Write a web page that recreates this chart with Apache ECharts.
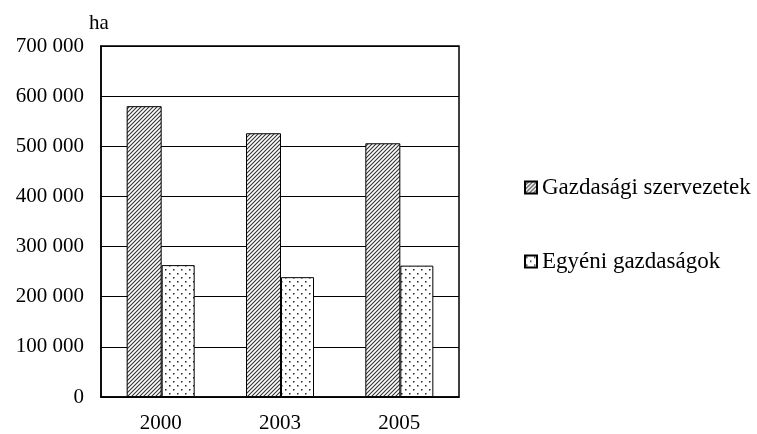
<!DOCTYPE html>
<html>
<head>
<meta charset="utf-8">
<script src="https://cdn.jsdelivr.net/npm/echarts@6/dist/echarts.min.js"></script>
<style>
html, body { margin: 0; padding: 0; background: #fff; }
#chart { width: 757px; height: 434px; }
</style>
</head>
<body>
<div id="chart"></div>
<script>
var years = ["2000", "2003", "2005"];
var gazdasagi = [580000, 526000, 506000];
var egyeni = [263000, 239000, 262000];

// hatch pattern: diagonal lines
function hatchPattern() {
	var c = document.createElement("canvas");
	c.width = 4; c.height = 4;
	var g = c.getContext("2d");
	g.fillStyle = "#fff"; g.fillRect(0, 0, 4, 4);
	g.strokeStyle = "#333"; g.lineWidth = 1.1;
	g.beginPath();
	g.moveTo(0, 4); g.lineTo(4, 0);
	g.moveTo(-1, 1); g.lineTo(1, -1);
	g.moveTo(3, 5); g.lineTo(5, 3);
	g.stroke();
	return c;
}

// dotted pattern
function dotPattern() {
	var c = document.createElement("canvas");
	c.width = 8; c.height = 8;
	var g = c.getContext("2d");
	g.fillStyle = "#fff"; g.fillRect(0, 0, 8, 8);
	g.fillStyle = "#222";
	g.fillRect(1, 1, 1.5, 1.5);
	g.fillRect(5, 5, 1.5, 1.5);
	return c;
}

var fontFam = "'Liberation Serif', 'DejaVu Serif', serif";
var chart = echarts.init(document.getElementById("chart"));
chart.setOption({
	animation: false,
	backgroundColor: "#fff",
	textStyle: { fontFamily: fontFam },
	grid: { left: 101, right: 298, top: 46, bottom: 37, show: true, borderColor: "#000", borderWidth: 1.5 },
	legend: {
		orient: "vertical",
		left: 519, top: 171,
		itemWidth: 12, itemHeight: 12, itemGap: 51,
		icon: "rect",
		textStyle: { fontFamily: fontFam, fontSize: 23, color: "#000" },
		data: ["Gazdasági szervezetek", "Egyéni gazdaságok"]
	},
	xAxis: {
		type: "category",
		data: years,
		axisLine: { lineStyle: { color: "#000", width: 1.5 } },
		axisTick: { show: false },
		axisLabel: { color: "#000", fontSize: 21, fontFamily: fontFam, margin: 16 }
	},
	yAxis: {
		type: "value",
		min: 0, max: 700000, interval: 100000,
		name: "ha",
		nameLocation: "end",
		nameGap: 12,
		nameTextStyle: { color: "#000", fontSize: 21, fontFamily: fontFam, align: "left", padding: [0, 0, 0, -12] },
		axisLine: { show: true, lineStyle: { color: "#000", width: 1.5 } },
		axisTick: { show: false },
		splitLine: { lineStyle: { color: "#000", width: 1 } },
		axisLabel: {
			color: "#000", fontSize: 21, fontFamily: fontFam, margin: 17,
			formatter: function(v) { return String(v).replace(/\B(?=(\d{3})+(?!\d))/g, " "); }
		}
	},
	series: [
		{
			name: "Gazdasági szervezetek",
			type: "bar",
			data: gazdasagi,
			barWidth: 35,
			barGap: "0%",
			itemStyle: { color: { image: hatchPattern(), repeat: "repeat" }, borderColor: "#000", borderWidth: 1 }
		},
		{
			name: "Egyéni gazdaságok",
			type: "bar",
			data: egyeni,
			barWidth: 33,
			itemStyle: { color: { image: dotPattern(), repeat: "repeat" }, borderColor: "#000", borderWidth: 1 }
		}
	]
});
</script>
</body>
</html>
